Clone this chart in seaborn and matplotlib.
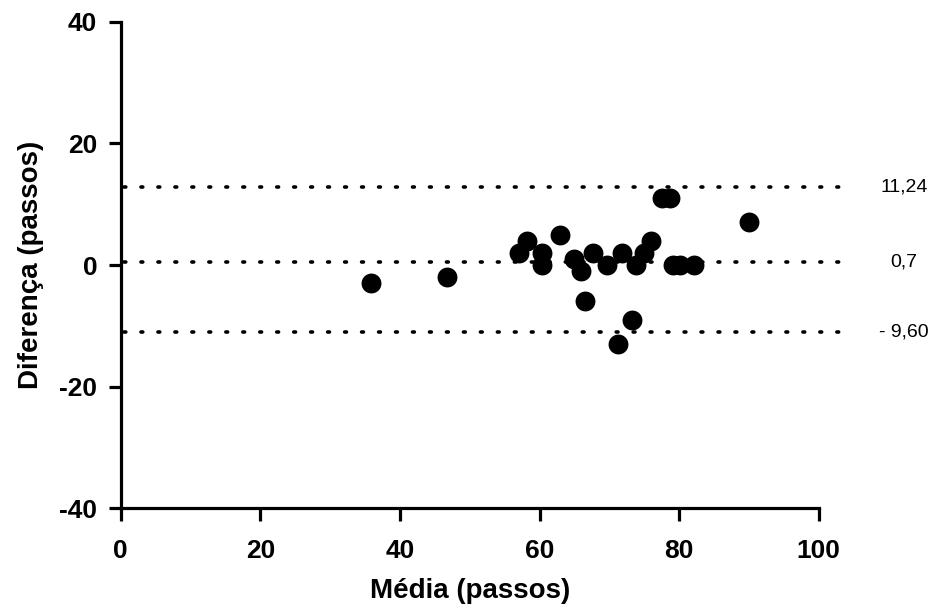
import matplotlib
matplotlib.use("Agg")
import matplotlib.pyplot as plt
import pandas as pd
import seaborn as sns

# Bland-Altman data
media = [58.2, 57.1, 60.3, 60.3, 62.9, 65.0, 66.0, 67.6, 69.6, 71.8, 73.8, 74.9,
         75.9, 77.5, 78.7, 79.1, 80.1, 82.1, 90.0, 66.5, 73.3, 71.2, 35.8, 46.8]
diferenca = [4, 2, 2, 0, 5, 1, -1, 2, 0, 2, 0, 2,
             4, 11, 11, 0, 0, 0, 7, -6, -9, -13, -3, -2]

# limit lines (drawn) and their printed labels
linhas = [12.8, 0.5, -11.1]
rotulos = ["11,24", "0,7", "- 9,60"]

df = pd.DataFrame({"media": media, "diferenca": diferenca})

sns.set_theme(style="ticks")
plt.rcParams['font.family'] = ['Liberation Sans', 'DejaVu Sans']
plt.rcParams['axes.unicode_minus'] = False
for k in ['text.color', 'axes.labelcolor', 'xtick.color', 'ytick.color', 'axes.edgecolor']:
    plt.rcParams[k] = 'black'

fig = plt.figure(figsize=(9.51, 6.16), dpi=100)
ax = fig.add_axes([0.127, 0.1753, 0.734, 0.789])

for y in linhas:
    ax.axhline(y, xmin=0.005, xmax=1.04, color='black', linestyle=(0, (0.5, 4.2)),
               linewidth=2.6, dash_capstyle='round', clip_on=False, zorder=1)

sns.scatterplot(data=df, x="media", y="diferenca", ax=ax, color='black',
                s=205, edgecolor='black', linewidth=0, zorder=3, legend=False)

for y, t in zip(linhas, rotulos):
    ax.text(1.122, y, t, transform=ax.get_yaxis_transform(), ha='center', va='center',
            fontsize=14, color='black')

ax.set_xlim(0, 100)
ax.set_ylim(-40, 40)
ax.set_xticks([0, 20, 40, 60, 80, 100])
ax.set_yticks([-40, -20, 0, 20, 40])

for s in ['top', 'right']:
    ax.spines[s].set_visible(False)
for s in ['left', 'bottom']:
    ax.spines[s].set_linewidth(2.3)

ax.tick_params(axis='both', length=9, width=2.3, labelsize=19)
ax.tick_params(axis='x', pad=13)
ax.tick_params(axis='y', pad=8)
for lab in ax.get_xticklabels() + ax.get_yticklabels():
    lab.set_fontweight('bold')

ax.set_xlabel("Média (passos)", fontsize=20, fontweight='bold', labelpad=11)
ax.set_ylabel("Diferença (passos)", fontsize=20, fontweight='bold', labelpad=11)

fig.savefig("out.png", dpi=100)
